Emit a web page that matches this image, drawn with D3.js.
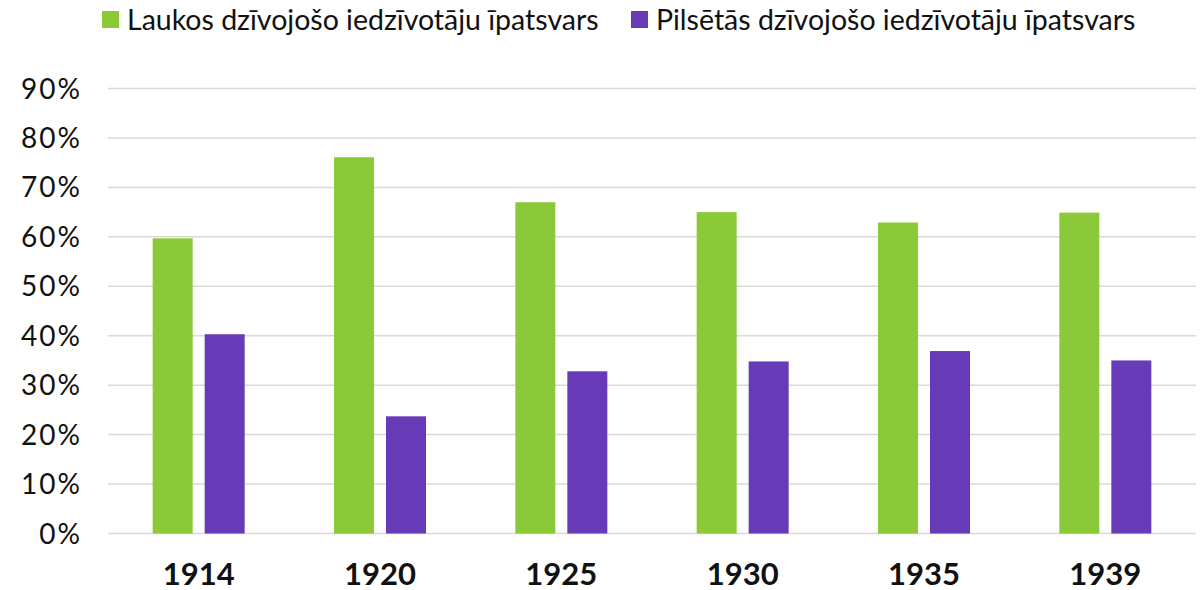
<!DOCTYPE html>
<html lang="lv">
<head>
  <meta charset="UTF-8">
  <title>Iedzīvotāju īpatsvars</title>
  <script src="https://d3js.org/d3.v7.min.js"></script>
  <style>
    body { margin: 0; background: #fff; }
    svg { display: block; font-family: Lato, "Noto Sans", sans-serif; }
    .grid line { stroke: #d9d9d9; stroke-width: 1.5px; }
    .y-label { font-size: 28px; letter-spacing: 2px; fill: #111; }
    .x-label { font-size: 31px; font-weight: bold; fill: #111; }
    .legend text { font-size: 28.5px; fill: #111; }
  </style>
</head>
<body>
  <svg width="1203" height="590"></svg>
  <script>
    // dati
    const years = ["1914", "1920", "1925", "1930", "1935", "1939"];
    const rural = [59.7, 76.1, 67.0, 65.0, 62.9, 64.9];
    const urban = [40.3, 23.7, 32.8, 34.8, 36.9, 35.0];
    const seriesNames = ["Laukos dzīvojošo iedzīvotāju īpatsvars", "Pilsētās dzīvojošo iedzīvotāju īpatsvars"];
    const yTicks = [0, 10, 20, 30, 40, 50, 60, 70, 80, 90];

    const colors = ["#8cc938", "#673ab7"];
    const svg = d3.select("svg");
    const plotLeft = 108, plotRight = 1196, plotTop = 88.5, plotBottom = 533.5;

    const x = d3.scaleBand().domain(years).range([plotLeft, plotRight]).padding(0);
    const y = d3.scaleLinear().domain([0, 90]).range([plotBottom, plotTop]);

    // režģa līnijas
    svg.append("g").attr("class", "grid")
      .selectAll("line")
      .data(yTicks)
      .enter()
      .append("line")
      .attr("x1", plotLeft).attr("x2", plotRight)
      .attr("y1", d => y(d)).attr("y2", d => y(d));

    // Y ass teksti
    svg.append("g")
      .selectAll("text")
      .data(yTicks)
      .enter()
      .append("text")
      .attr("class", "y-label")
      .attr("x", 82)
      .attr("y", d => y(d))
      .attr("dy", "0.36em")
      .attr("text-anchor", "end")
      .text(d => d + "%");

    // stabiņi
    const barW = 40, gap = 12;
    const data = years.map((yr, i) => ({ year: yr, vals: [rural[i], urban[i]] }));
    const group = svg.append("g")
      .selectAll("g")
      .data(data)
      .enter()
      .append("g")
      .attr("transform", d => `translate(${x(d.year) + x.bandwidth() / 2}, 0)`);

    group.selectAll("rect")
      .data(d => d.vals)
      .enter()
      .append("rect")
      .attr("x", (d, i) => i === 0 ? -barW - gap / 2 : gap / 2)
      .attr("y", d => y(d))
      .attr("width", barW)
      .attr("height", d => plotBottom - y(d))
      .attr("fill", (d, i) => colors[i]);

    // X ass teksti
    svg.append("g")
      .selectAll("text")
      .data(years)
      .enter()
      .append("text")
      .attr("class", "x-label")
      .attr("x", d => x(d) + x.bandwidth() / 2)
      .attr("y", 585)
      .attr("text-anchor", "middle")
      .text(d => d);

    // leģenda
    const legendX = [102, 631];
    const legend = svg.append("g").attr("class", "legend")
      .selectAll("g")
      .data(seriesNames)
      .enter()
      .append("g")
      .attr("transform", (d, i) => `translate(${legendX[i]}, 11)`);

    legend.append("rect")
      .attr("width", 17).attr("height", 17)
      .attr("fill", (d, i) => colors[i]);

    legend.append("text")
      .attr("x", 25)
      .attr("y", 8.5)
      .attr("dy", "0.36em")
      .text(d => d);
  </script>
</body>
</html>
